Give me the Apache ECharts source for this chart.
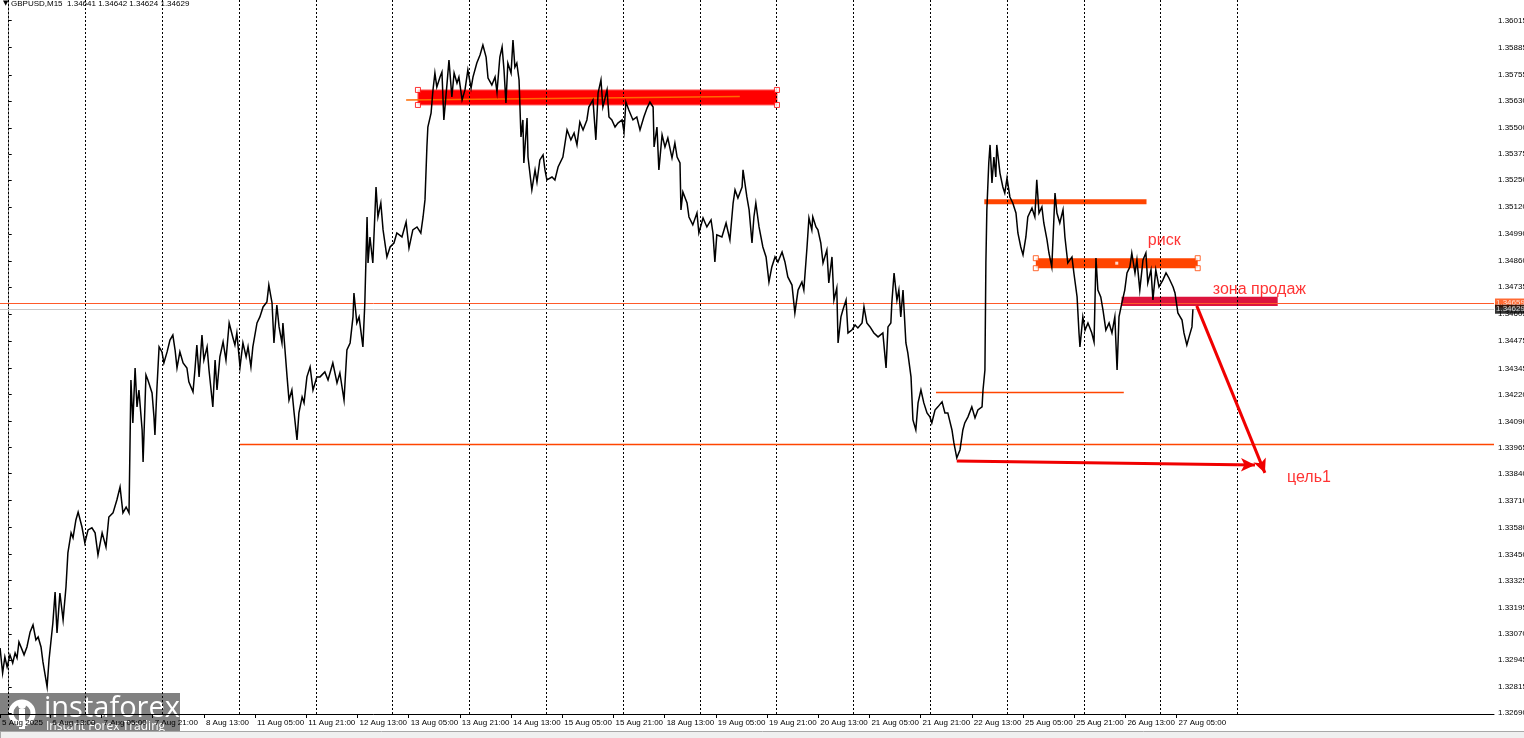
<!DOCTYPE html>
<html><head><meta charset="utf-8">
<script src="https://cdn.jsdelivr.net/npm/echarts@6/dist/echarts.min.js"></script>
<style>html,body{margin:0;padding:0;background:#fff}#c{width:1524px;height:738px}</style>
</head><body><div id="c"></div>
<script>
// ---- data (time = trading hours since 6 Aug 2025 00:00, weekends skipped) ----
const priceHours = [
-2.7,-1.9,-1.2,-0.5,0.4,1.25,2.0,2.6,3.2,4.2,4.8,5.7,6.7,7.6,8.5,9.2,10.1,10.7,12.0,12.6,13.8,14.5,15.1,16.0,17.0,17.9,18.5,19.5,20.1,21.0,21.7,22.9,23.8,24.8,26.0,27.0,27.9,29.2,30.4,31.3,32.6,33.8,34.8,35.7,36.7,37.6,38.2,38.8,39.5,40.1,40.7,41.7,42.0,42.9,43.5,44.8,45.4,45.7,46.3,47.0,47.9,48.5,49.5,50.4,51.3,52.0,52.6,53.5,54.5,55.7,56.3,57.6,58.2,58.8,59.5,60.4,61.0,62.0,62.6,63.8,64.5,65.1,66.0,67.0,67.9,68.9,70.1,70.7,71.3,72.3,73.2,74.2,74.8,75.7,76.3,77.6,78.5,79.5,80.7,81.3,82.3,82.9,83.8,84.5,85.4,85.7,87.0,87.6,88.5,89.2,90.1,90.7,91.7,92.3,93.2,94.2,
95.1,96.3,97.3,98.8,99.8,101.3,102.6,103.5,104.8,105.7,106.7,107.6,107.9,108.8,109.5,110.7,111.3,112.0,112.3,112.9,113.8,114.8,115.4,116.3,117.0,118.2,119.2,120.4,121.3,122.9,124.2,125.1,126.3,127.6,128.8,129.5,130.1,130.7,131.0,132.0,132.6,133.2,133.8,134.8,135.4,136.0,137.0,137.6,138.5,139.2,140.1,140.7,141.7,142.6,143.5,144.5,145.1,146.3,147.3,148.2,149.2,149.8,151.0,152.0,152.6,153.5,154.2,154.8,155.4,156.0,157.0,157.6,158.2,158.8,159.5,160.1,160.7,161.0,162.0,162.3,163.5,164.5,165.1,166.0,167.0,167.6,168.2,169.8,170.7,171.7,173.2,174.5,175.7,176.7,177.6,178.5,179.5,180.7,181.3,182.6,183.5,184.2,185.1,185.7,187.0,187.6,
188.5,189.5,190.4,191.7,192.3,192.9,193.8,195.1,196.3,197.3,198.5,199.5,200.4,201.4,201.7,202.6,203.2,204.2,205.1,206.0,207.3,208.2,208.9,209.8,210.1,210.7,212.0,212.6,213.8,215.1,215.7,217.0,218.2,219.5,220.1,220.7,221.3,222.9,224.2,225.4,226.4,227.0,227.9,229.2,229.5,230.7,231.4,232.3,232.9,233.5,234.5,235.7,236.7,237.6,238.5,239.5,240.4,241.7,242.6,243.5,244.8,245.7,246.7,247.9,248.5,249.5,250.1,251.0,251.3,252.3,252.9,253.8,254.5,255.7,256.3,257.3,257.9,258.8,259.2,260.1,260.7,261.7,262.3,263.5,264.5,265.4,266.7,267.3,268.2,269.2,270.4,271.7,273.2,274.2,274.8,275.7,276.0,276.7,277.6,278.2,278.8,279.5,280.4,281.0,282.0,282.6,283.5,284.2,285.1,286.0,287.0,287.9,
288.5,289.5,290.4,291.7,292.6,293.5,294.8,295.4,296.3,297.3,298.2,298.8,299.8,301.0,302.0,302.9,304.2,304.5,305.1,305.4,305.7,306.3,306.7,307.3,307.9,308.5,308.8,309.8,310.7,311.3,312.0,312.9,313.8,314.8,315.4,316.3,317.0,317.9,318.5,319.8,320.7,321.3,322.0,322.9,323.5,324.5,325.1,326.0,327.0,327.6,328.5,329.5,330.1,331.0,332.3,332.9,333.9,334.5,334.8,335.7,336.4,337.3,338.5,339.2,339.8,340.4,341.3,342.0,342.9,343.9,344.8,345.7,346.4,347.0,347.9,348.8,349.5,350.4,351.0,352.0,352.6,353.5,354.5,355.4,356.0,357.0,357.6,358.5,359.5,360.7,361.7,362.6,363.9,364.5,365.4,366.7,367.3,368.2,368.9,369.8,370.1
];
const priceValues = [
1.33002,1.32882,1.32959,1.32911,1.32969,1.32930,1.32978,1.32954,1.33031,1.32993,1.32969,1.33007,1.33079,1.33113,1.33041,1.33055,1.33007,1.32935,1.32815,1.32945,1.33122,1.33271,1.33074,1.33266,1.33137,1.33295,1.33459,1.33555,1.33531,1.33617,1.33655,1.33583,1.33507,1.33569,1.33579,1.33555,1.33449,1.33555,1.33487,1.33631,1.33651,1.33713,1.33775,1.33651,1.33679,1.33651,1.34289,1.34083,1.34347,1.34160,1.34241,1.34049,1.33895,1.34313,1.34289,1.34227,1.34112,1.34025,1.34241,1.34448,1.34424,1.34371,1.34424,1.34481,1.34505,1.34433,1.34347,1.34424,1.34371,1.34347,1.34280,1.34232,1.34337,1.34457,1.34304,1.34505,1.34385,1.34448,1.34337,1.34160,1.34385,1.34241,1.34400,1.34472,1.34385,1.34563,1.34491,1.34457,1.34515,1.34352,1.34467,1.34400,1.34448,1.34352,1.34448,1.34563,1.34592,1.34640,1.34664,1.34745,1.34659,1.34467,1.34649,1.34544,1.34467,1.34563,1.34304,1.34193,1.34241,1.34131,1.34001,1.34131,1.34208,1.34179,1.34304,1.34352,
1.34241,1.34304,1.34304,1.34328,1.34289,1.34371,1.34275,1.34323,1.34193,1.34433,1.34467,1.34592,1.34707,1.34563,1.34592,1.34448,1.34659,1.35072,1.34851,1.34976,1.34851,1.35216,1.35072,1.35139,1.35010,1.34880,1.34928,1.34947,1.34995,1.34976,1.35048,1.34923,1.35010,1.35024,1.34995,1.35072,1.35154,1.35408,1.35504,1.35571,1.35682,1.35763,1.35696,1.35744,1.35768,1.35538,1.35715,1.35826,1.35648,1.35763,1.35715,1.35744,1.35634,1.35682,1.35778,1.35691,1.35744,1.35811,1.35850,1.35898,1.35840,1.35739,1.35706,1.35744,1.35672,1.35840,1.35888,1.35778,1.35619,1.35811,1.35763,1.35922,1.35792,1.35811,1.35730,1.35456,1.35538,1.35331,1.35547,1.35360,1.35202,1.35298,1.35240,1.35346,1.35370,1.35298,1.35250,1.35264,1.35250,1.35312,1.35360,1.35490,1.35442,1.35475,1.35418,1.35528,1.35490,1.35538,1.35600,1.35634,1.35442,1.35667,1.35730,1.35600,1.35682,1.35552,
1.35538,1.35504,1.35523,1.35538,1.35480,1.35624,1.35586,1.35538,1.35552,1.35490,1.35552,1.35595,1.35624,1.35600,1.35408,1.35504,1.35298,1.35466,1.35408,1.35451,1.35355,1.35427,1.35360,1.35331,1.35106,1.35192,1.35139,1.35072,1.35034,1.35091,1.34995,1.35067,1.35024,1.35058,1.34995,1.34856,1.34986,1.34976,1.35043,1.34962,1.35139,1.35202,1.35163,1.35216,1.35298,1.35168,1.35106,1.34947,1.35072,1.35139,1.35024,1.34928,1.34880,1.34760,1.34832,1.34880,1.34856,1.34904,1.34856,1.34784,1.34745,1.34611,1.34721,1.34760,1.34721,1.34928,1.35067,1.35010,1.35072,1.35024,1.35010,1.34947,1.34851,1.34913,1.34755,1.34880,1.34673,1.34731,1.34467,1.34592,1.34625,1.34673,1.34515,1.34529,1.34553,1.34539,1.34563,1.34640,1.34563,1.34544,1.34515,1.34496,1.34515,1.34347,1.34544,1.34563,1.34659,1.34803,1.34673,1.34721,1.34592,1.34721,1.34467,1.34419,1.34304,1.34097,1.34049,1.34179,1.34241,1.34179,1.34131,1.34112,
1.34083,1.34145,1.34160,1.34184,1.34131,1.34131,1.34049,1.33987,1.33915,1.33953,1.34049,1.34083,1.34112,1.34160,1.34107,1.34145,1.34160,1.34241,1.34337,1.34851,1.35106,1.35331,1.35418,1.35235,1.35360,1.35264,1.35418,1.35283,1.35216,1.35187,1.35259,1.35168,1.35139,1.35091,1.34995,1.34928,1.34890,1.34976,1.35072,1.35115,1.35072,1.35250,1.35091,1.35120,1.35043,1.34962,1.34899,1.34832,1.35187,1.35091,1.35043,1.35106,1.34976,1.34851,1.34880,1.34803,1.34688,1.34515,1.34448,1.34592,1.34529,1.34563,1.34515,1.34472,1.34875,1.34721,1.34688,1.34625,1.34529,1.34563,1.34515,1.34592,1.34337,1.34592,1.34659,1.34721,1.34803,1.34832,1.34899,1.34803,1.34866,1.34721,1.34866,1.34899,1.34755,1.34818,1.34673,1.34818,1.34736,1.34769,1.34803,1.34779,1.34736,1.34707,1.34611,1.34577,1.34515,1.34457,1.34496,1.34544,1.34629
];
const yTickValues = [1.36015,1.35885,1.35755,1.35630,1.35500,1.35375,1.35250,1.35120,1.34990,1.34860,1.34735,1.34605,1.34475,1.34345,1.34220,1.34090,1.33965,1.33840,1.33710,1.33580,1.33450,1.33325,1.33195,1.33070,1.32945,1.32815,1.32690];
const xTickHours = [-2.7,13,29,45,61,77,93,109,125,141,157,173,189,205,221,237,253,269,285,301,317,333,349,365];
const xTickLabels = ['5 Aug 2025','6 Aug 13:00','7 Aug 05:00','7 Aug 21:00','8 Aug 13:00','11 Aug 05:00','11 Aug 21:00','12 Aug 13:00','13 Aug 05:00','13 Aug 21:00','14 Aug 13:00','15 Aug 05:00','15 Aug 21:00','18 Aug 13:00','19 Aug 05:00','19 Aug 21:00','20 Aug 13:00','21 Aug 05:00','21 Aug 21:00','22 Aug 13:00','25 Aug 05:00','25 Aug 21:00','26 Aug 13:00','27 Aug 05:00'];
const dayStartHours = [0,24,48,72,96,120,144,168,192,216,240,264,288,312,336,360,384];
const titleText = 'GBPUSD,M15  1.34641 1.34642 1.34624 1.34629';
const levelPrice = 1.34659;
const bidPrice = 1.34629;
// annotation objects (hours, prices)
const topZoneHours = [127.9, 240.1];
const topZonePrices = [1.35610, 1.35682];
const topTrendHours = [124.2, 228.5];
const topTrendPrices = [1.35634, 1.35650];
const riskZoneHours = [321.0, 371.6];
const riskZonePrices = [1.34826, 1.34874];
const sellZoneHours = [347.8, 396.6];
const sellZonePrices = [1.34645, 1.34689];
const upperBarHours = [304.9, 355.6];
const upperBarPrices = [1.35133, 1.35157];
const midLineHours = [289.8, 348.5];
const midLinePrice = 1.34228;
const supportRayStartHour = 72.3;
const supportPrice = 1.33980;
const targetArrowHours = [296.3, 389.5];
const targetArrowPrices = [1.33900, 1.33881];
const downArrowHours = [371.3, 392.6];
const downArrowPrices = [1.34645, 1.33843];
const noteTexts = ['риск', 'зона продаж', 'цель1'];
const noteHours = [356.0, 376.3, 399.5];
const notePrices = [1.34957, 1.34721, 1.33819];

// ---- chart ----
const X_MIN = -2.72, X_MAX = 464.2, Y_MIN = 1.32685, Y_MAX = 1.36114;
const chart = echarts.init(document.getElementById('c'), null, {renderer: 'canvas'});
const labelFor = v => { let best = 0, d = 1e9; xTickHours.forEach((h, i) => { const e = Math.abs(h - v); if (e < d) { d = e; best = i; } }); return xTickLabels[best]; };
const FONT = 'Liberation Sans';
const rectArea = (hs, ps, style) => [{coord: [hs[0], ps[1]], itemStyle: style}, {coord: [hs[1], ps[0]]}];
const corners = (hs, ps) => [[hs[0], ps[0]], [hs[0], ps[1]], [hs[1], ps[0]], [hs[1], ps[1]]];
const segLine = (hs, ps, style) => [{coord: [hs[0], ps[0]], lineStyle: style, label: {show: false}}, {coord: [hs[1], ps[1]]}];

const option = {
  animation: false,
  backgroundColor: '#ffffff',
  grid: {left: 0, right: 30, top: 0, bottom: 24, containLabel: false, outerBoundsMode: 'none'},
  xAxis: {
    type: 'value', min: X_MIN, max: X_MAX,
    axisLine: {show: true, lineStyle: {color: '#000', width: 1}},
    axisTick: {show: true, customValues: xTickHours, length: 4, lineStyle: {color: '#000'}},
    axisLabel: {show: true, customValues: xTickHours, formatter: v => labelFor(v), align: 'left', margin: 5,
      fontSize: 8, fontFamily: FONT, color: '#000', padding: [0, 0, 0, 2], showMinLabel: true, showMaxLabel: true},
    splitLine: {show: false}
  },
  yAxis: {
    type: 'value', position: 'right', min: Y_MIN, max: Y_MAX, scale: true,
    axisLine: {show: true, lineStyle: {color: '#8a8a8a', width: 1}},
    axisTick: {show: true, customValues: yTickValues, length: 3, inside: false, lineStyle: {color: '#000'}},
    axisLabel: {show: true, customValues: yTickValues, formatter: v => v.toFixed(5), margin: 4,
      fontSize: 8, fontFamily: FONT, color: '#000'},
    splitLine: {show: false}
  },
  series: [
    { // day separators
      type: 'scatter', data: [], silent: true, z: 1,
      markLine: {silent: true, symbol: 'none', label: {show: false}, animation: false,
        lineStyle: {color: '#000', type: [2, 2], width: 1},
        data: dayStartHours.map(h => ({xAxis: h}))}
    },
    { // zones
      type: 'scatter', data: [], silent: true, z: 2,
      markArea: {silent: true, label: {show: false},
        data: [
          rectArea(topZoneHours, topZonePrices, {color: '#ff0000', borderColor: '#ff5a5a', borderWidth: 1}),
          rectArea(riskZoneHours, riskZonePrices, {color: '#ff4500'}),
          rectArea(sellZoneHours, sellZonePrices, {color: '#dc143c'}),
          rectArea(upperBarHours, upperBarPrices, {color: '#ff4500'})
        ]}
    },
    { // thin trend / level segments
      type: 'scatter', data: [], silent: true, z: 3,
      markLine: {silent: true, symbol: 'none', animation: false,
        data: [
          segLine([supportRayStartHour, X_MAX], [supportPrice, supportPrice], {color: '#ff4500', width: 1.3, type: 'solid'}),
          segLine(midLineHours, [midLinePrice, midLinePrice], {color: '#ff4500', width: 1.3, type: 'solid'}),
          segLine(topTrendHours, topTrendPrices, {color: '#ff6a00', width: 1.5, type: 'solid'}),
          segLine([X_MIN, X_MAX], [levelPrice, levelPrice], {color: '#ff5a2a', width: 1, type: 'solid'}),
          segLine([X_MIN, X_MAX], [bidPrice, bidPrice], {color: '#c8c8c8', width: 1, type: 'solid'})
        ]}
    },
    { // price
      type: 'line', name: 'GBPUSD', z: 5,
      data: priceHours.map((h, i) => [h, priceValues[i]]),
      showSymbol: false, symbol: 'none', sampling: null,
      lineStyle: {color: '#000', width: 1.5, join: 'miter'},
      silent: true
    },
    { // price tags on the axis
      type: 'scatter', z: 9, silent: true, symbolSize: 0, clip: false,
      data: [{value: [X_MAX, levelPrice], name: levelPrice.toFixed(5), bg: '#ff4500'},
             {value: [X_MAX, bidPrice], name: bidPrice.toFixed(5), bg: '#000'}].map(d => ({
        value: d.value, name: d.name,
        label: {show: true, position: 'right', distance: 1, formatter: p => p.name, color: '#fff', backgroundColor: d.bg,
          fontSize: 8, fontFamily: FONT, padding: [1, 4, 0, 1], verticalAlign: 'middle'}
      }))
    },
    { // arrows
      type: 'scatter', data: [], silent: true, z: 6,
      markLine: {silent: true, animation: false, symbol: ['none', 'arrow'], symbolSize: [10, 14],
        data: [
          segLine(targetArrowHours, targetArrowPrices, {color: '#f00000', width: 3, type: 'solid'}),
          segLine(downArrowHours, downArrowPrices, {color: '#f00000', width: 3, type: 'solid'})
        ]}
    },
    { // object handles
      type: 'scatter', z: 7, silent: true, symbol: 'rect', symbolSize: 5,
      data: corners(topZoneHours, topZonePrices),
      itemStyle: {color: '#fff', borderColor: '#ff0000', borderWidth: 1}
    },
    {
      type: 'scatter', z: 7, silent: true, symbol: 'rect', symbolSize: 5,
      data: corners(riskZoneHours, riskZonePrices),
      itemStyle: {color: '#fff', borderColor: '#ff4500', borderWidth: 1}
    },
    {
      type: 'scatter', z: 7, silent: true, symbol: 'rect', symbolSize: 3,
      data: [[(riskZoneHours[0] + riskZoneHours[1]) / 2, (riskZonePrices[0] + riskZonePrices[1]) / 2]],
      itemStyle: {color: '#fff'}
    },
    { // text notes
      type: 'scatter', z: 8, silent: true, symbolSize: 0,
      data: noteTexts.map((t, i) => ({name: t, value: [noteHours[i], notePrices[i]]})),
      label: {show: true, position: 'right', distance: 0, formatter: p => p.name, color: '#ff0000',
        fontSize: 16, fontFamily: 'Liberation Sans', verticalAlign: 'middle'}
    }
  ],
  graphic: [
    {type: 'text', left: 3, top: 0, z: 100, style: {text: '▼', fontSize: 7, fill: '#000', fontFamily: 'DejaVu Sans'}},
    {type: 'text', left: 11, top: 0, z: 100, style: {text: titleText, fontSize: 8, fill: '#000', fontFamily: FONT}},
    {type: 'rect', left: 0, top: 731, z: 90, shape: {width: 1524, height: 7}, style: {fill: '#f0f0f0', stroke: '#a8a8a8', lineWidth: 1}},
    {type: 'group', left: 0, top: 693, z: 100, children: [
      {type: 'rect', shape: {x: 0, y: 0, width: 180, height: 45}, style: {fill: 'rgba(112,112,112,0.88)'}},
      {type: 'circle', shape: {cx: 22, cy: 20, r: 11}, style: {fill: 'none', stroke: '#fff', lineWidth: 5}},
      {type: 'rect', shape: {x: 19, y: 16, width: 6, height: 20}, style: {fill: '#fff'}},
      {type: 'circle', shape: {cx: 22, cy: 12, r: 4}, style: {fill: '#fff'}},
      {type: 'text', x: 44, y: 1, style: {text: 'instaforex', fontSize: 29, fill: '#fff', fontFamily: 'Open Sans'}},
      {type: 'text', x: 46, y: 28, style: {text: 'Instant Forex Trading', fontSize: 12, fill: '#fff', fontFamily: 'Open Sans'}}
    ]}
  ]
};
chart.setOption(option);
</script>
</body></html>
